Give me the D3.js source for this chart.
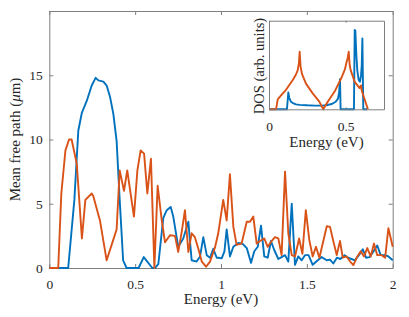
<!DOCTYPE html>
<html>
<head>
<meta charset="utf-8">
<script src="https://cdn.jsdelivr.net/npm/d3@7"></script>
<style>
  body { margin: 0; background: #fff; }
</style>
</head>
<body>
<div id="chart"></div>
<script>
// main plot: mean free path vs energy
const xTicks = [0, 0.5, 1, 1.5, 2];
const yTicks = [0, 5, 10, 15, 20];
const yTickLabels = ["0", "5", "10", "15", ""];

const mfpBlueE = [0, 0.11, 0.146, 0.169, 0.19, 0.218, 0.247, 0.27, 0.286, 0.315, 0.334, 0.354, 0.373, 0.392, 0.41, 0.43, 0.45, 0.52, 0.55, 0.6, 0.615, 0.635, 0.664, 0.684, 0.707, 0.722, 0.751, 0.78, 0.81, 0.829, 0.858, 0.878, 0.897, 0.917, 0.936, 0.955, 0.975, 0.984, 1.004, 1.02, 1.033, 1.052, 1.072, 1.101, 1.125, 1.15, 1.175, 1.194, 1.214, 1.233, 1.252, 1.272, 1.291, 1.31, 1.334, 1.353, 1.373, 1.392, 1.412, 1.431, 1.45, 1.47, 1.489, 1.51, 1.534, 1.555, 1.586, 1.616, 1.635, 1.654, 1.675, 1.695, 1.72, 1.74, 1.76, 1.78, 1.803, 1.826, 1.845, 1.865, 1.889, 1.91, 1.93, 1.956, 1.975, 2.0];
const mfpBlue = [0, 0, 5.3, 10.7, 12.1, 13.0, 14.2, 14.8, 14.6, 14.5, 14.2, 13.3, 12.0, 9.9, 5.3, 0.6, 0, 0, 0.85, 0, 0, 0.3, 3.9, 4.5, 4.75, 4.0, 1.65, 2.3, 3.6, 0.6, 0.5, 0.9, 2.4, 1.0, 0.8, 1.5, 0.8, 0.8, 0.75, 1.3, 3.0, 0.9, 1.65, 1.95, 1.9, 1.55, 0.4, 1.3, 1.65, 3.3, 0.9, 0.8, 2.1, 1.4, 0.7, 0.85, 1.0, 0.5, 5.0, 0.25, 0.9, 0.6, 1.0, 1.0, 0.25, 0.5, 0.85, 0.6, 0.65, 0.35, 0.8, 0.7, 1.0, 0.8, 0.7, 0.6, 1.0, 1.45, 0.8, 0.85, 1.3, 1.75, 1.0, 1.0, 0.9, 0.6];

const mfpOrangeE = [0, 0.052, 0.07, 0.094, 0.115, 0.13, 0.16, 0.19, 0.21, 0.247, 0.256, 0.295, 0.334, 0.363, 0.392, 0.41, 0.435, 0.454, 0.493, 0.513, 0.532, 0.552, 0.571, 0.592, 0.612, 0.631, 0.655, 0.674, 0.703, 0.732, 0.751, 0.771, 0.79, 0.81, 0.829, 0.848, 0.868, 0.888, 0.913, 0.936, 0.965, 0.984, 1.013, 1.033, 1.052, 1.072, 1.091, 1.12, 1.15, 1.169, 1.188, 1.208, 1.227, 1.252, 1.272, 1.295, 1.314, 1.334, 1.353, 1.373, 1.392, 1.412, 1.431, 1.455, 1.474, 1.494, 1.514, 1.534, 1.553, 1.573, 1.596, 1.616, 1.635, 1.654, 1.674, 1.693, 1.709, 1.732, 1.752, 1.771, 1.794, 1.814, 1.833, 1.852, 1.872, 1.891, 1.91, 1.936, 1.956, 1.975, 2.0];
const mfpOrange = [0, 0, 5.8, 9.15, 10.0, 10.0, 8.1, 2.3, 5.3, 5.8, 5.6, 3.7, 0.6, 1.8, 3.0, 7.6, 6.0, 7.6, 4.0, 7.6, 9.15, 8.9, 5.8, 8.5, 0, 6.4, 3.7, 2.0, 2.55, 2.5, 1.25, 2.8, 4.5, 1.25, 2.7, 2.4, 1.5, 0.5, 0.1, 0.5, 1.6, 2.7, 5.3, 3.7, 7.3, 3.2, 1.8, 1.9, 3.6, 3.6, 4.0, 1.9, 2.1, 2.3, 1.65, 2.1, 2.4, 2.3, 1.0, 7.5, 2.7, 1.0, 0.9, 2.3, 1.1, 4.5, 2.2, 0.9, 1.65, 0.8, 2.1, 3.25, 3.2, 2.1, 1.0, 2.1, 0.8, 0.9, 0.5, 0.23, 0.9, 1.3, 0.9, 1.55, 0.9, 1.9, 1.0, 1.0, 0.8, 3.1, 1.65];

// inset: density of states
const insetXTicks = [0, 0.5];
const dosBlueE = [0, 0.117, 0.126, 0.132, 0.143, 0.16, 0.176, 0.2, 0.25, 0.3, 0.35, 0.38, 0.41, 0.435, 0.45, 0.458, 0.463, 0.467, 0.554, 0.559, 0.563, 0.57, 0.576, 0.585, 0.593, 0.6, 0.605, 0.609, 0.615, 0.64];
const dosBlue = [0, 0, 0.19, 0.13, 0.086, 0.066, 0.056, 0.05, 0.045, 0.042, 0.042, 0.048, 0.06, 0.085, 0.12, 0.2, 0.34, 0, 0, 0.895, 0.89, 0.6, 0.44, 0.33, 0.31, 0.38, 0.5, 0.8, 0, 0];
const dosOrangeE = [0, 0.046, 0.057, 0.08, 0.111, 0.155, 0.175, 0.187, 0.195, 0.2, 0.206, 0.215, 0.241, 0.285, 0.328, 0.354, 0.383, 0.428, 0.471, 0.495, 0.504, 0.513, 0.52, 0.526, 0.533, 0.559, 0.591, 0.6, 0.605, 0.645];
const dosOrange = [0, 0, 0.113, 0.16, 0.22, 0.33, 0.39, 0.44, 0.52, 0.65, 0.48, 0.4, 0.29, 0.18, 0.086, 0, 0.085, 0.2, 0.35, 0.45, 0.52, 0.58, 0.65, 0.5, 0.44, 0.31, 0.24, 0.27, 0.21, 0];

const blue = "#0072BD", orange = "#D95319", axisCol = "#7f7f7f";
const serif = "'Liberation Serif', 'Times New Roman', Times, 'DejaVu Serif', serif";

const svg = d3.select("#chart").append("svg")
  .attr("width", 409)
  .attr("height", 317);

const x = d3.scaleLinear().domain([0, 2]).range([49.3, 392.7]);
const y = d3.scaleLinear().domain([0, 20]).range([268, 11]);

function styleAxis(g) {
  g.attr("font-family", serif);
  g.select(".domain").attr("stroke", axisCol).attr("stroke-width", 1);
  g.selectAll(".tick line").attr("stroke", axisCol);
  g.selectAll(".tick text").attr("font-size", "13.5px").attr("fill", "#262626");
}

// axes (ticks point inward, like the original)
svg.append("g").attr("transform", "translate(0,268)")
  .call(d3.axisBottom(x).tickValues(xTicks).tickFormat(d3.format("")).tickSize(-4).tickSizeOuter(0).tickPadding(11.4))
  .call(styleAxis);
svg.append("g").attr("transform", "translate(0,11)")
  .call(d3.axisTop(x).tickValues(xTicks).tickFormat("").tickSize(-4).tickSizeOuter(0))
  .call(styleAxis);
svg.append("g").attr("transform", "translate(49.3,0)")
  .call(d3.axisLeft(y).tickValues(yTicks).tickFormat((d, i) => yTickLabels[i]).tickSize(-4).tickSizeOuter(0).tickPadding(6.6))
  .call(styleAxis);
svg.append("g").attr("transform", "translate(392.7,0)")
  .call(d3.axisRight(y).tickValues(yTicks).tickFormat("").tickSize(-4).tickSizeOuter(0))
  .call(styleAxis);

const line = (xs, ys) => d3.line().x(d => xs(d[0])).y(d => ys(d[1]));

function drawSeries(g, es, vs, color, xs, ys) {
  g.append("path")
    .datum(es.map((e, i) => [e, vs[i]]))
    .attr("fill", "none")
    .attr("stroke", color)
    .attr("stroke-width", 1.9)
    .attr("stroke-linejoin", "round")
    .attr("d", line(xs, ys));
}

const plot = svg.append("g");
drawSeries(plot, mfpBlueE, mfpBlue, blue, x, y);
drawSeries(plot, mfpOrangeE, mfpOrange, orange, x, y);

svg.append("text")
  .attr("x", 221).attr("y", 303.7)
  .attr("text-anchor", "middle").attr("font-size", "15px")
  .text("Energy (eV)");

const yl = svg.append("text")
  .attr("transform", "translate(20,139.5) rotate(-90)")
  .attr("text-anchor", "middle").attr("font-size", "15px");
yl.append("tspan").text("Mean free path (");
yl.append("tspan").attr("font-style", "italic").text("\u03bc");
yl.append("tspan").text("m)");

// inset
const ix = d3.scaleLinear().domain([0, 0.75]).range([269, 384]);
const iy = d3.scaleLinear().domain([0, 1]).range([109.3, 20.7]);

svg.append("rect")
  .attr("x", 269).attr("y", 20.7)
  .attr("width", 384 - 269).attr("height", 109.3 - 20.7)
  .attr("fill", "#fff");

const inset = svg.append("g");
drawSeries(inset, dosBlueE, dosBlue, blue, ix, iy);
drawSeries(inset, dosOrangeE, dosOrange, orange, ix, iy);

svg.append("g").attr("transform", "translate(0,109.3)")
  .call(d3.axisBottom(ix).tickValues(insetXTicks).tickFormat(d3.format("")).tickSize(-2).tickSizeOuter(0).tickPadding(12))
  .call(styleAxis);
svg.append("g").attr("transform", "translate(0,20.7)")
  .call(d3.axisTop(ix).tickValues(insetXTicks).tickFormat("").tickSize(-2).tickSizeOuter(0))
  .call(styleAxis);
svg.append("g").attr("transform", "translate(269,0)")
  .call(d3.axisLeft(iy).tickValues([]).tickSizeOuter(0))
  .call(styleAxis);
svg.append("g").attr("transform", "translate(384,0)")
  .call(d3.axisRight(iy).tickValues([]).tickSizeOuter(0))
  .call(styleAxis);

svg.append("text")
  .attr("x", 326.5).attr("y", 147)
  .attr("text-anchor", "middle").attr("font-size", "15px")
  .text("Energy (eV)");
svg.append("text")
  .attr("transform", "translate(263.5,66) rotate(-90)")
  .attr("text-anchor", "middle").attr("font-size", "14.5px")
  .text("DOS (arb. units)");

// every label in the serif face of the original
svg.selectAll("text").attr("font-family", serif).attr("fill", "#262626");
</script>
</body>
</html>
